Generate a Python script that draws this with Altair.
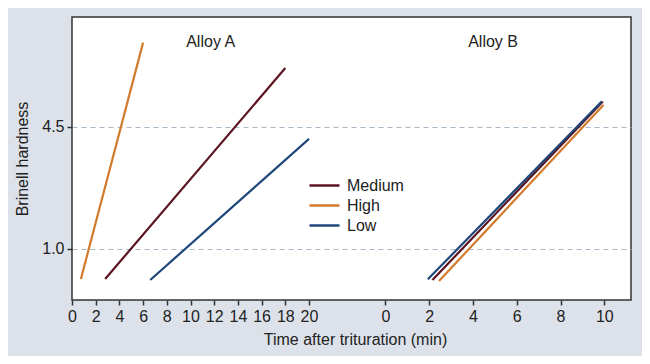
import altair as alt
import pandas as pd

# ---- data ----
series = ["Medium", "High", "Low"]
colors = ["#5b1420", "#d27b2c", "#1f4779"]

# Alloy A: start / end of each line (time in min, Brinell hardness)
a_start_t = [2.8, 0.75, 6.6]
a_start_h = [0.14, 0.14, 0.11]
a_end_t = [18.0, 6.0, 20.0]
a_end_h = [6.19, 6.92, 4.16]

# Alloy B
b_start_t = [2.15, 2.45, 1.94]
b_start_h = [0.11, 0.08, 0.13]
b_end_t = [9.93, 9.96, 9.88]
b_end_h = [5.23, 5.13, 5.23]

a_ticks = [0, 2, 4, 6, 8, 10, 12, 14, 16, 18, 20]
b_ticks = [0, 2, 4, 6, 8, 10]
y_ticks = [1.0, 4.5]

panel_labels = ["Alloy A", "Alloy B"]
panel_alloy = ["A", "B"]
panel_t = [11.7, 4.92]
panel_h = [6.94, 6.94]

# ---- layout constants (shared axis: B section offset and stretched) ----
B_OFFSET = 26.44
B_SCALE = 1.848
X_MAX = 47.17
Y_MIN, Y_MAX = -0.463, 7.655

rows = []
for i, s in enumerate(series):
    rows.append({"alloy": "A", "series": s, "t": a_start_t[i], "h": a_start_h[i], "o": 0})
    rows.append({"alloy": "A", "series": s, "t": a_end_t[i], "h": a_end_h[i], "o": 1})
for i, s in enumerate(series):
    rows.append({"alloy": "B", "series": s, "t": b_start_t[i], "h": b_start_h[i], "o": 0})
    rows.append({"alloy": "B", "series": s, "t": b_end_t[i], "h": b_end_h[i], "o": 1})
df = pd.DataFrame(rows)

labels_df = pd.DataFrame({"label": panel_labels, "alloy": panel_alloy, "t": panel_t, "h": panel_h})

xpos_expr = f"datum.alloy == 'A' ? datum.t : {B_OFFSET} + datum.t * {B_SCALE}"
tick_values = [float(v) for v in a_ticks] + [B_OFFSET + v * B_SCALE for v in b_ticks]
label_expr = f"datum.value < 23 ? format(datum.value, 'd') : format(round((datum.value - {B_OFFSET}) / {B_SCALE}), 'd')"

FONT = "Liberation Sans"
FS = 16

x_enc = alt.X(
    "xpos:Q",
    scale=alt.Scale(domain=[0, X_MAX], nice=False, zero=False),
    axis=alt.Axis(
        values=tick_values,
        labelExpr=label_expr,
        labelOverlap=False,
        labelFlush=False,
        labelBound=False,
        grid=False,
        domain=False,
        tickSize=5,
        tickWidth=1.5,
        tickColor="#333333",
        labelPadding=3,
        labelFontSize=FS,
        labelColor="#222222",
        labelFont=FONT,
        title="Time after trituration (min)",
        titleFontSize=FS,
        titleFontWeight="normal",
        titleFont=FONT,
        titleColor="#222222",
        titleX=283,
        titleY=39,
        titleAlign="center",
        titleBaseline="middle",
    ),
)

y_enc = alt.Y(
    "h:Q",
    scale=alt.Scale(domain=[Y_MIN, Y_MAX], nice=False, zero=False),
    axis=alt.Axis(
        values=y_ticks,
        format=".1f",
        labelOverlap=False,
        labelFlush=False,
        grid=True,
        gridDash=[5, 4],
        gridColor="#a7b9c8",
        gridWidth=1,
        domain=False,
        tickSize=5,
        tickWidth=1.5,
        tickColor="#333333",
        labelPadding=3,
        labelFontSize=FS,
        labelColor="#222222",
        labelFont=FONT,
        title="Brinell hardness",
        titleFontSize=FS,
        titleFontWeight="normal",
        titleFont=FONT,
        titleColor="#222222",
        titleX=-50,
        titleY=141.5,
        titleAlign="center",
        titleBaseline="middle",
        titleAngle=270,
    ),
)

lines = alt.Chart(df).transform_calculate(
    xpos=xpos_expr
).mark_line(strokeWidth=2.2).encode(
    x=x_enc,
    y=y_enc,
    color=alt.Color(
        "series:N",
        scale=alt.Scale(domain=series, range=colors),
        legend=alt.Legend(
            title=None,
            orient="none",
            legendX=241,
            legendY=157,
            symbolType="M-1.5,0H1.5",
            symbolSize=400,
            symbolStrokeWidth=2.5,
            labelFontSize=FS,
            labelFont=FONT,
            labelColor="#222222",
            rowPadding=0,
            labelOffset=11,
        ),
    ),
    detail="alloy:N",
    order="o:Q",
)

texts = alt.Chart(labels_df).transform_calculate(
    xpos=xpos_expr
).mark_text(fontSize=FS, font=FONT, color="#222222", align="center", baseline="middle").encode(
    x=x_enc,
    y=y_enc,
    text="label:N",
)

chart = alt.layer(lines, texts).properties(
    width=559,
    height=283,
    autosize=alt.AutoSizeParams(type="none"),
    padding={"left": 64, "top": 9, "right": 11, "bottom": 56},
    background="#dde2ea",
).configure_view(
    fill="white",
    stroke="#333333",
    strokeWidth=1.5,
).configure_axis(
    labelOverlap=False,
)

chart.save("out.html", embed_options={"renderer": "svg", "actions": False})
